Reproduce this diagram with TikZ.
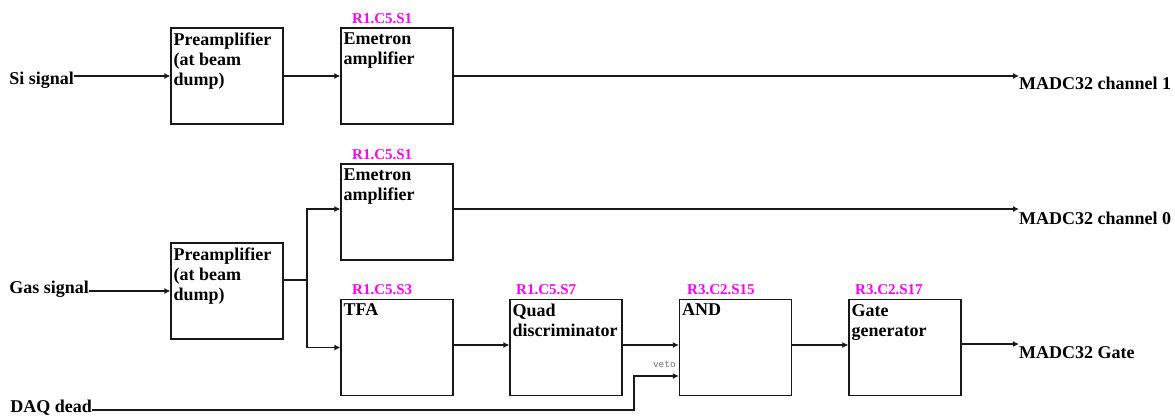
\documentclass[tikz,border=0pt]{standalone}
\usepackage{fontspec}
\setmainfont{Liberation Serif}
\newfontfamily\vetofont{Liberation Mono}
\usetikzlibrary{arrows.meta,calc}
\definecolor{mag}{RGB}{255,0,255}
\begin{document}
\begin{tikzpicture}[x=1pt,y=-1pt,
  box/.style={draw=black!90,line width=1.2pt,minimum width=112pt,minimum height=96pt,inner sep=0pt},
  boxtext/.style={anchor=north west,inner sep=0pt,align=left,font=\fontsize{18}{20}\selectfont\bfseries},
  lbl/.style={inner sep=0pt,font=\fontsize{18}{20}\selectfont\bfseries},
  slot/.style={inner sep=0pt,anchor=base west,text=mag,font=\fontsize{15}{17}\selectfont\bfseries},
  wire/.style={draw=black!90,line width=1.2pt},
  arr/.style={wire,-{Latex[length=6pt,width=6pt]}},
]
\useasboundingbox (0,0) rectangle (1175,416);

% boxes
\node[box] (pre1) at (227,76) {};
\node[box] (em1) at (397,76) {};
\node[box] (em2) at (397,212) {};
\node[box] (pre2) at (227,291) {};
\node[box] (tfa) at (397,347.5) {};
\node[box] (quad) at (566,347.5) {};
\node[box] (andg) at (735.5,347.5) {};
\node[box] (gate) at (905,347.5) {};

% box texts
\node[boxtext] (pre1t) at ($(pre1.north west)+(3,5)$) {Preamplifier\\(at beam\\dump)};
\node[boxtext] (em1t) at ($(em1.north west)+(3,5)$) {Emetron\\amplifier};
\node[boxtext] (em2t) at ($(em2.north west)+(3,5)$) {Emetron\\amplifier};
\node[boxtext] (pre2t) at ($(pre2.north west)+(3,5)$) {Preamplifier\\(at beam\\dump)};
\node[boxtext] (tfat) at ($(tfa.north west)+(3,5)$) {TFA};
\node[boxtext] (quadt) at ($(quad.north west)+(3,5)$) {Quad\\discriminator};
\node[boxtext] (andt) at ($(andg.north west)+(3,5)$) {AND};
\node[boxtext] (gatet) at ($(gate.north west)+(3,5)$) {Gate\\generator};

% slot labels
\node[slot] (s1) at (352,23.3) {R1.C5.S1};
\node[slot] (s2) at (352,159.3) {R1.C5.S1};
\node[slot] (s3) at (352,294) {R1.C5.S3};
\node[slot] (s4) at (516,294) {R1.C5.S7};
\node[slot] (s5) at (687,294) {R3.C2.S15};
\node[slot] (s6) at (855,294) {R3.C2.S17};

% external labels
\node[lbl,anchor=base east] (si) at (74,84) {Si signal};
\node[lbl,anchor=base east] (gas) at (89,293.5) {Gas signal};
\node[lbl,anchor=base east] (daq) at (92,412.5) {DAQ dead};
\node[lbl,anchor=base west] (madc1) at (1019,89) {MADC32 channel 1};
\node[lbl,anchor=base west] (madc0) at (1019,224.5) {MADC32 channel 0};
\node[lbl,anchor=base west] (madcg) at (1019,358) {MADC32 Gate};
\node[inner sep=0pt,anchor=east,font=\vetofont\fontsize{9.5}{10}\selectfont,text=black!55] (veto) at (676,364) {veto};

% top chain
\draw[arr] (si.east |- pre1.west) -- (pre1.west);
\draw[arr] (pre1.east) -- (em1.west);
\draw[arr] (em1.east) -- (em1.east -| madc1.west);

% gas chain
\draw[arr] (gas.east |- pre2.west) -- (pre2.west);
\coordinate (sp) at (307,280);
\draw[wire] (pre2.east |- sp) -- (sp);
\draw[arr] (sp) |- ([yshift=3pt]em2.west);
\draw[arr] (sp) |- (tfa.west);
\draw[arr] ([yshift=3pt]em2.east) -- ([yshift=3pt]em2.east -| madc0.west);
\draw[arr] ([yshift=2.5pt]tfa.east) -- ([yshift=2.5pt]quad.west);
\draw[arr] ([yshift=2.5pt]quad.east) -- ([yshift=2.5pt]andg.west);
\draw[arr] ([yshift=2.5pt]andg.east) -- ([yshift=2.5pt]gate.west);
\draw[arr] ([yshift=3.5pt]gate.east) -- ([yshift=3.5pt]gate.east -| madcg.west);

% DAQ dead veto
\coordinate (dq) at (634,410);
\draw[arr] (daq.east |- dq) -- (dq) |- ([yshift=-28.5pt]andg.west);
\end{tikzpicture}
\end{document}
